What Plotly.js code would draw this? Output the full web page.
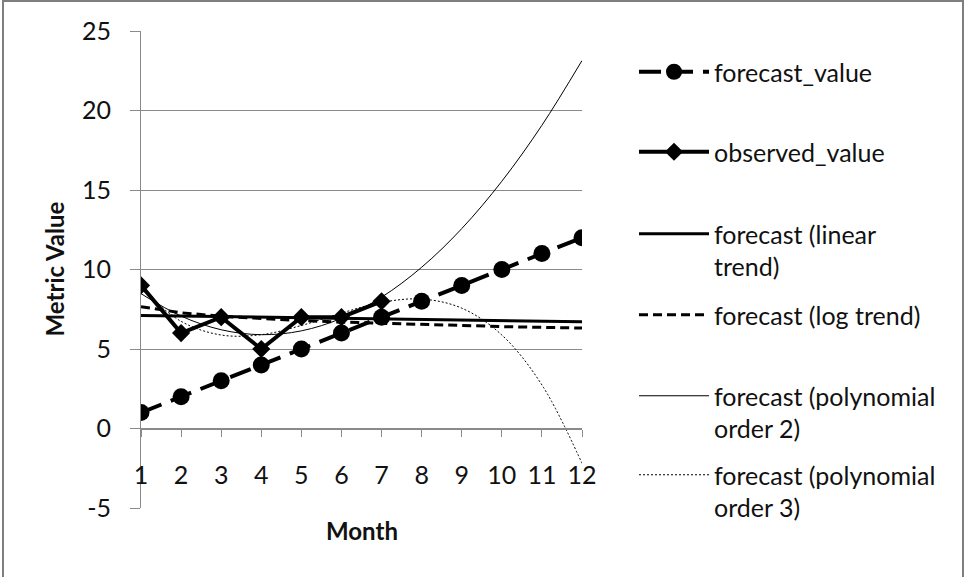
<!DOCTYPE html>
<html>
<head>
<meta charset="utf-8">
<script src="https://cdn.plot.ly/plotly-3.0.1.min.js"></script>
<style>
  html, body { margin: 0; padding: 0; background: #fff; }
  #wrap { position: relative; width: 964px; height: 577px; overflow: hidden; }
  #chart { position: absolute; left: 0; top: 0; width: 964px; height: 577px; }
  #frame { position: absolute; left: 2px; top: 0px; width: 958px; height: 600px;
           border: 2px solid #7f7f7f; pointer-events: none; }
</style>
</head>
<body>
<div id="wrap">
  <div id="chart"></div>
  <div id="frame"></div>
</div>
<script>
// ---- data ----
const months = [1, 2, 3, 4, 5, 6, 7, 8, 9, 10, 11, 12];
const monthLabels = ['1','2','3','4','5','6','7','8','9','10','11','12'];
const forecastValue = [1, 2, 3, 4, 5, 6, 7, 8, 9, 10, 11, 12];
const observedMonths = [1, 2, 3, 4, 5, 6, 7];
const observedValue = [9, 6, 7, 5, 7, 7, 8];
const linearTrend = [7.11, 7.07, 7.04, 7.00, 6.96, 6.93, 6.89, 6.86, 6.82, 6.79, 6.75, 6.71];
const logTrend = [7.66, 7.28, 7.06, 6.91, 6.79, 6.69, 6.61, 6.53, 6.47, 6.41, 6.36, 6.32];
const poly2Trend = [8.48, 7.07, 6.21, 5.90, 6.14, 6.93, 8.26, 10.14, 12.57, 15.55, 19.07, 23.14];
const poly3Trend = [8.81, 6.74, 5.88, 5.90, 6.48, 7.26, 7.93, 8.14, 7.57, 5.88, 2.74, -2.19];
const yTicks = [-5, 0, 5, 10, 15, 20, 25];
const yTickLabels = ['-5', '0', '5', '10', '15', '20', '25'];
const seriesNames = ['forecast_value', 'observed_value', 'forecast (linear<br>trend)',
  'forecast (log trend)', 'forecast (polynomial<br>order 2)', 'forecast (polynomial<br>order 3)'];

const FONT = 'Lato, "Noto Sans", sans-serif';
const FS = 25;
const TXT = '#111111';
const GRID = '#8a8a8a';

const traces = [
  { x: months, y: linearTrend, name: seriesNames[2], mode: 'lines', legend: 'legend3',
    line: { color: '#000', width: 3 } },
  { x: months, y: logTrend, name: seriesNames[3], mode: 'lines', legend: 'legend4',
    line: { color: '#000', width: 3, dash: '9px,5px' } },
  { x: months, y: poly2Trend, name: seriesNames[4], mode: 'lines', legend: 'legend5',
    line: { color: '#000', width: 1, shape: 'spline', smoothing: 1 } },
  { x: months, y: poly3Trend, name: seriesNames[5], mode: 'lines', legend: 'legend6',
    line: { color: '#000', width: 1, dash: '2px,2px', shape: 'spline', smoothing: 1 } },
  { x: months, y: forecastValue, name: seriesNames[0], mode: 'lines+markers', legend: 'legend',
    line: { color: '#000', width: 4, dash: '22px,10px' },
    marker: { symbol: 'circle', size: 17, color: '#000' } },
  { x: observedMonths, y: observedValue, name: seriesNames[1], mode: 'lines+markers', legend: 'legend2',
    line: { color: '#000', width: 4 },
    marker: { symbol: 'diamond', size: 14, color: '#000' } }
];

// plot area: x 141..582, y 31..508
const L = 141, R = 582, T = 31, B = 508;
const W = R - L, H = B - T;
function px2x(p) { return (p - L) / W; }
function py2y(p) { return (B - p) / H; }

function legendAt(sym_y) {
  return {
    x: px2x(634), xanchor: 'left',
    y: py2y(sym_y - 23), yanchor: 'top',
    bgcolor: 'rgba(0,0,0,0)', borderwidth: 0,
    font: { family: FONT, size: FS, color: TXT },
    itemwidth: 70, valign: 'top', itemclick: false, itemdoubleclick: false
  };
}

const layout = {
  width: 964, height: 577,
  margin: { l: L, r: 964 - R, t: T, b: 577 - B, pad: 0 },
  paper_bgcolor: '#fff', plot_bgcolor: '#fff',
  font: { family: FONT, size: FS, color: TXT },
  showlegend: true,
  legend: legendAt(72),
  legend2: legendAt(152),
  legend3: legendAt(234),
  legend4: legendAt(315),
  legend5: legendAt(396),
  legend6: legendAt(475),
  xaxis: {
    range: [1, 12], tickmode: 'array', tickvals: months, ticktext: monthLabels,
    anchor: 'free', position: 1 / 6,
    showline: true, linecolor: GRID, linewidth: 1,
    ticks: 'outside', ticklen: 7, tickcolor: GRID, tickwidth: 1,
    ticklabelstandoff: 17,
    showgrid: false, zeroline: false,
    tickfont: { family: FONT, size: FS, color: TXT },
    fixedrange: true
  },
  yaxis: {
    range: [-5, 25], tickmode: 'array', tickvals: yTicks, ticktext: yTickLabels,
    showline: true, linecolor: GRID, linewidth: 1,
    ticks: 'outside', ticklen: 10, tickcolor: GRID, tickwidth: 1,
    ticklabelstandoff: 14,
    showgrid: true, gridcolor: GRID, gridwidth: 1, zeroline: false,
    tickfont: { family: FONT, size: FS, color: TXT },
    fixedrange: true
  },
  annotations: [
    { text: '<b>Metric Value</b>', xref: 'paper', yref: 'paper', x: px2x(54), y: 0.5,
      textangle: -90, showarrow: false, xanchor: 'center', yanchor: 'middle',
      font: { family: FONT, size: 24, color: TXT } },
    { text: '<b>Month</b>', xref: 'paper', yref: 'paper', x: 0.5, y: py2y(530),
      showarrow: false, xanchor: 'center', yanchor: 'middle',
      font: { family: FONT, size: 24, color: TXT } }
  ]
};

Plotly.newPlot('chart', traces, layout, { displayModeBar: false, staticPlot: true });
</script>
</body>
</html>
